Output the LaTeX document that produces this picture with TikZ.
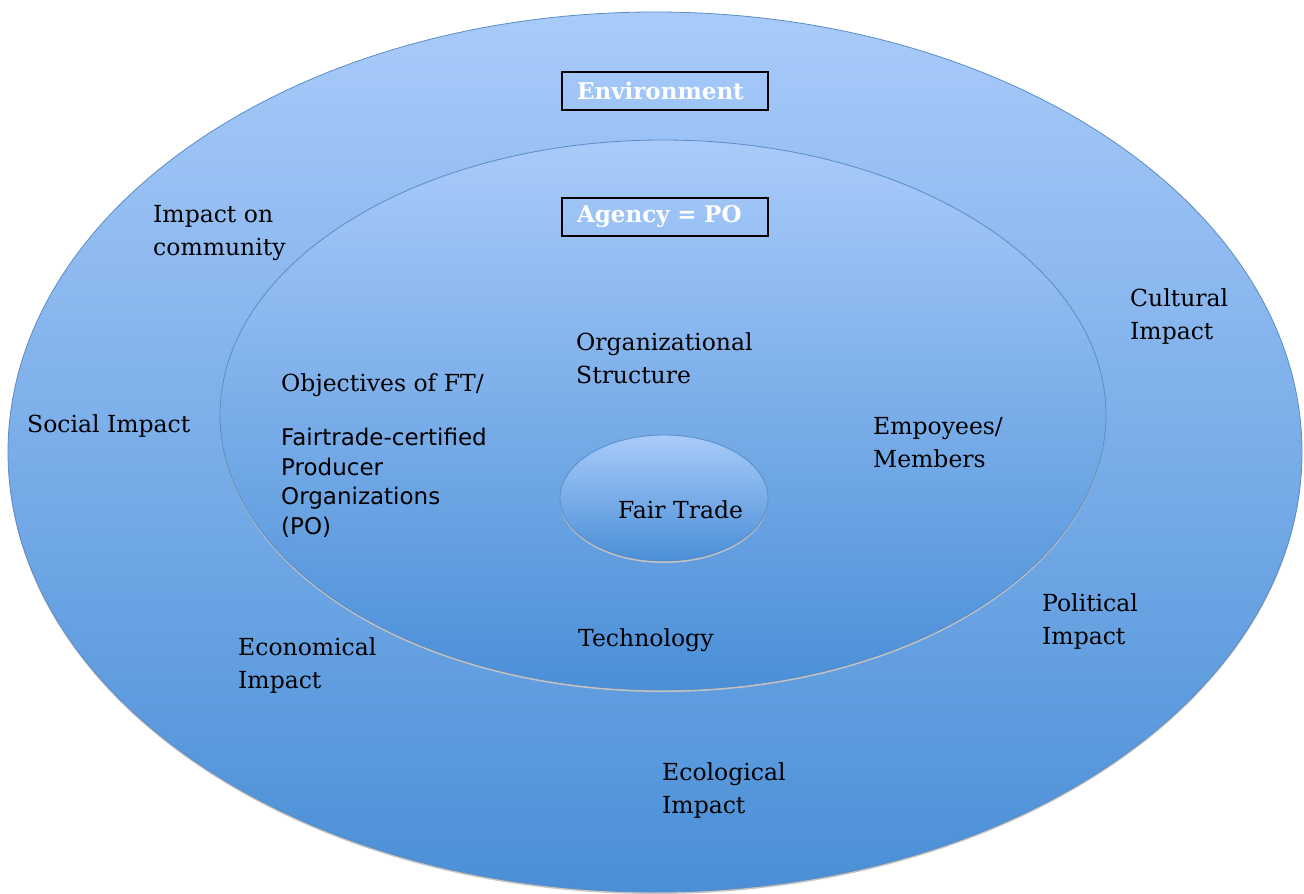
\documentclass[tikz,border=0pt]{standalone}
\usepackage{fontspec}
\setmainfont{DejaVu Serif}
\newfontfamily\sansfont{DejaVu Sans}
\usepackage{xcolor}
\definecolor{SkyTop}{HTML}{A9CBFA}
\definecolor{SkyBottom}{HTML}{4A8FD7}
\definecolor{RimBlue}{HTML}{5B8CC4}
\definecolor{ShadowGrey}{HTML}{C4C4C4}
\usepackage{tikz}

\begin{document}
\begin{tikzpicture}[x=1pt, y=-1pt,
	ring/.style={top color=SkyTop, bottom color=SkyBottom, draw=RimBlue, line width=0.8pt},
	label text/.style={anchor=north west, inner sep=0pt, align=left, font=\fontsize{23.5}{33}\selectfont},
	tag box/.style={draw=black, line width=2pt, minimum height=38pt, text width=176pt, inner xsep=15pt, inner ysep=0pt, align=left, text=white, font=\fontsize{23}{26}\selectfont\bfseries}]
			\useasboundingbox (0,0) rectangle (1304,894);
			% environment (outer ring)
			\fill[ShadowGrey] (655,454) ellipse [x radius=647pt, y radius=440pt];
			\shade[ring] (655,452) ellipse [x radius=647pt, y radius=440pt];
			% agency (inner ring)
			\fill[ShadowGrey] (663,417) ellipse [x radius=443pt, y radius=275pt];
			\shade[ring] (663,415) ellipse [x radius=443pt, y radius=275pt];
			% fair trade (core)
			\fill[ShadowGrey] (664,500) ellipse [x radius=104pt, y radius=63pt];
			\shade[ring] (664,498) ellipse [x radius=104pt, y radius=63pt];
			\node[tag box] (env) at (665,91) {Environment};
			\node[tag box] (agency) at (665,217) {Agency = PO};
			\node[label text] (community) at (153,205) {Impact on\\community};
			\node[label text] (cultural) at (1130,288) {Cultural\\Impact};
			\node[label text] (structure) at (576,332) {Organizational\\Structure};
			\node[label text] (objectives) at (281,373) {Objectives of FT/};
			\node[label text, font=\sansfont\fontsize{23}{29.5}\selectfont] (producers) at (281,428) {Fairtrade-certified\\Producer\\Organizations\\(PO)};
			\node[label text] (social) at (27,414) {Social Impact};
			\node[label text] (members) at (873,417) {Empoyees/\\Members};
			\node[label text] (fairtrade) at (618,500) {Fair Trade};
			\node[label text] (political) at (1042,593) {Political\\Impact};
			\node[label text] (technology) at (578,628) {Technology};
			\node[label text] (economical) at (238,637) {Economical\\Impact};
			\node[label text] (ecological) at (662,762) {Ecological\\Impact};
			\end{tikzpicture}
\end{document}
